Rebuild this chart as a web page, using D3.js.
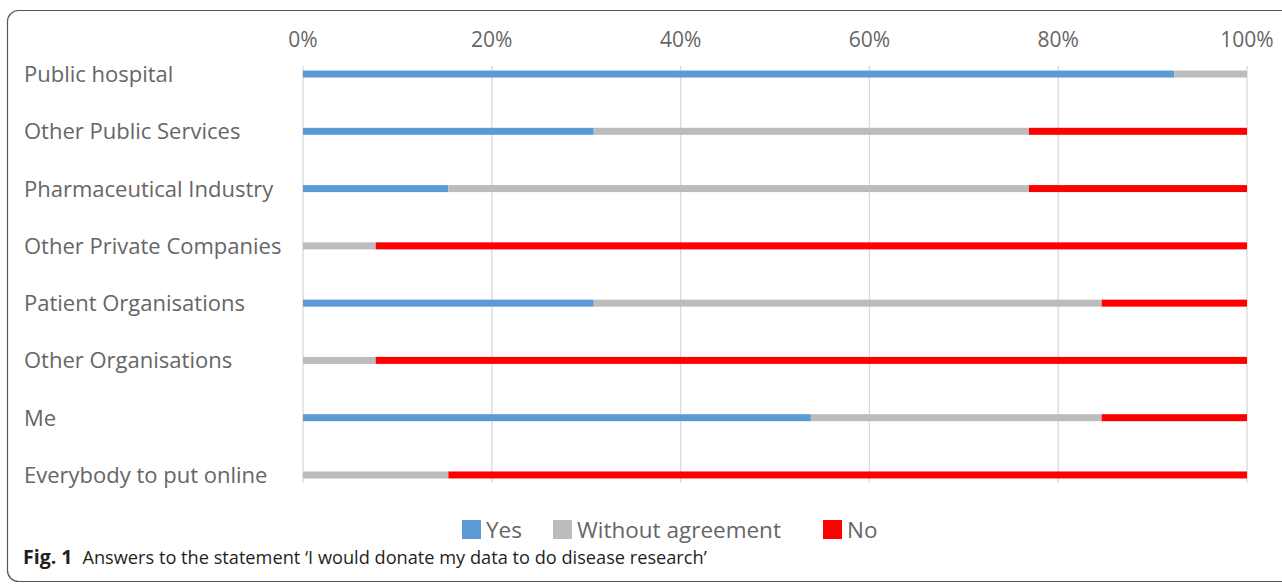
<!DOCTYPE html>
<html>
<head>
<meta charset="utf-8">
<script src="https://cdn.jsdelivr.net/npm/d3@7"></script>
<style>
  body { margin: 0; background: #fff; }
  svg { display: block; }
</style>
</head>
<body>
<svg id="chart" width="1282" height="584"></svg>
<script>
// Data (percent of respondents)
const categories = [
  "Public hospital",
  "Other Public Services",
  "Pharmaceutical Industry",
  "Other Private Companies",
  "Patient Organisations",
  "Other Organisations",
  "Me",
  "Everybody to put online"
];
const seriesNames = ["Yes", "Without agreement", "No"];
const yesValues = [92.3, 30.8, 15.4, 0, 30.8, 0, 53.8, 0];
const withoutValues = [7.7, 46.1, 61.5, 7.7, 53.8, 7.7, 30.8, 15.4];
const noValues = [0, 23.1, 23.1, 92.3, 15.4, 92.3, 15.4, 84.6];
const tickValues = [0, 20, 40, 60, 80, 100];
const seriesColors = ["#5b9bd5", "#bcbcbc", "#ff0000"];

const svg = d3.select("#chart");

// rounded frame
svg.append("rect")
  .attr("x", 7.5).attr("y", 10.5)
  .attr("width", 1300).attr("height", 571)
  .attr("rx", 11)
  .attr("fill", "none")
  .attr("stroke", "#555")
  .attr("stroke-width", 1.2);

const margin = { left: 303, right: 35, top: 45.4, bottom: 80.4 };
const width = 1282, height = 584;

const x = d3.scaleLinear().domain([0, 100]).range([margin.left, width - margin.right]);
const y = d3.scaleBand().domain(categories).range([margin.top, height - margin.bottom]).padding(0);

const firstC = y(categories[0]) + y.bandwidth() / 2;
const lastC = y(categories[categories.length - 1]) + y.bandwidth() / 2;

// gridlines
svg.append("g").selectAll("line")
  .data(tickValues)
  .enter().append("line")
  .attr("x1", d => x(d)).attr("x2", d => x(d))
  .attr("y1", firstC - 8).attr("y2", lastC + 8)
  .attr("stroke", "#d9d9d9")
  .attr("stroke-width", 1.3);

// top axis labels
svg.append("g").selectAll("text")
  .data(tickValues)
  .enter().append("text")
  .attr("x", d => x(d))
  .attr("y", 47)
  .attr("text-anchor", "middle")
  .attr("font-family", "Open Sans")
  .attr("font-size", 21)
  .attr("fill", "#666")
  .text(d => d + "%");

// category labels
svg.append("g").selectAll("text")
  .data(categories)
  .enter().append("text")
  .attr("x", 24)
  .attr("y", d => y(d) + y.bandwidth() / 2 + 8)
  .attr("font-family", "Open Sans")
  .attr("font-size", 22)
  .attr("fill", "#666")
  .text(d => d);

// stacked bars
const rows = categories.map((c, i) => ({
  name: c, "Yes": yesValues[i], "Without agreement": withoutValues[i], "No": noValues[i]
}));
const stacked = d3.stack().keys(seriesNames)(rows);
const color = d3.scaleOrdinal(seriesNames, seriesColors);
const barH = 7;

svg.append("g").selectAll("g")
  .data(stacked)
  .enter().append("g")
  .attr("fill", d => color(d.key))
  .selectAll("rect")
  .data(d => d)
  .enter().append("rect")
  .attr("x", d => x(d[0]))
  .attr("width", d => x(d[1]) - x(d[0]))
  .attr("y", d => y(d.data.name) + y.bandwidth() / 2 - barH / 2)
  .attr("height", barH);

// legend
const legendX = [462, 553, 823];
const legend = svg.append("g").selectAll("g")
  .data(seriesNames)
  .enter().append("g")
  .attr("transform", (d, i) => "translate(" + legendX[i] + ",520)");
legend.append("rect")
  .attr("width", 19).attr("height", 19)
  .attr("fill", d => color(d));
legend.append("text")
  .attr("x", 24).attr("y", 18)
  .attr("font-family", "Open Sans")
  .attr("font-size", 22.5)
  .attr("fill", "#666")
  .text(d => d);

// caption
const cap = svg.append("text")
  .attr("x", 23).attr("y", 564)
  .attr("font-family", "Open Sans")
  .attr("font-size", 18.2)
  .attr("fill", "#231f20");
cap.append("tspan").attr("font-weight", "bold").attr("font-size", 19.5).text("Fig. 1");
cap.append("tspan").attr("dx", 10).text("Answers to the statement \u2018I would donate my data to do disease research\u2019");
</script>
</body>
</html>
